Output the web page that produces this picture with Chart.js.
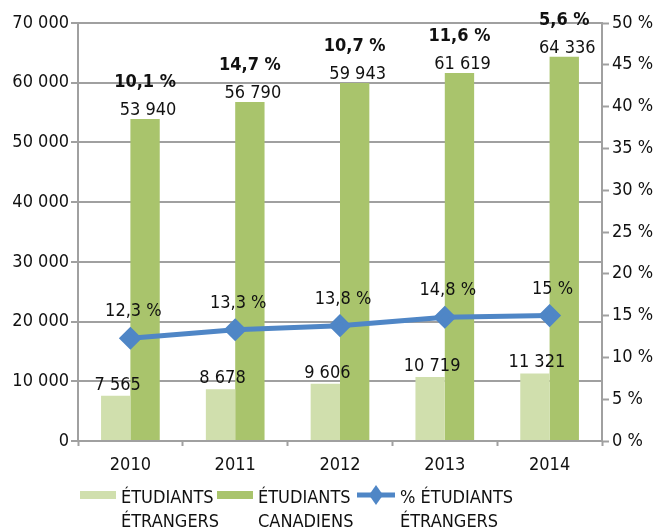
<!DOCTYPE html>
<html>
<head>
<meta charset="utf-8">
<script src="https://cdn.jsdelivr.net/npm/chart.js@4/dist/chart.umd.min.js"></script>
<style>
  html, body { margin: 0; padding: 0; background: #fff; }
  #wrap { width: 665px; height: 531px; }
</style>
</head>
<body>
<div id="wrap"><canvas id="chart" width="665" height="531"></canvas></div>
<script>
// data
var years = ['2010', '2011', '2012', '2013', '2014'];
var foreignStudents = [7565, 8678, 9606, 10719, 11321];
var canadianStudents = [53940, 56790, 59943, 61619, 64336];
var foreignShare = [12.3, 13.3, 13.8, 14.8, 15];
var canadianGrowth = [10.1, 14.7, 10.7, 11.6, 5.6];
var legendLabels = [['ÉTUDIANTS', 'ÉTRANGERS'], ['ÉTUDIANTS', 'CANADIENS'], ['% ÉTUDIANTS', 'ÉTRANGERS']];

var FONT = "'DejaVu Sans Condensed', 'Liberation Sans Narrow', sans-serif";
var LIGHT = '#d0dfad';
var DARK = '#a9c46c';
var BLUE = '#4f86c6';
var GRID = '#a0a0a0';
var FS = 18;

function fmtNum(n) {
    return String(n).replace(/\B(?=(\d{3})+(?!\d))/g, ' ');
}
function fmtPct(p) {
    return String(p).replace('.', ',') + ' %';
}

// value labels above bars and points
var labelPlugin = {
    id: 'valueLabels',
    afterDatasetsDraw: function (chart) {
        var ctx = chart.ctx;
        ctx.save();
        ctx.fillStyle = '#111';
        ctx.textAlign = 'center';
        ctx.textBaseline = 'alphabetic';
        ctx.font = FS + 'px ' + FONT;
        chart.getDatasetMeta(0).data.forEach(function (bar, i) {
            ctx.fillText(fmtNum(foreignStudents[i]), bar.x + 2, bar.y - 6);
        });
        chart.getDatasetMeta(1).data.forEach(function (bar, i) {
            ctx.font = FS + 'px ' + FONT;
            ctx.fillText(fmtNum(canadianStudents[i]), bar.x + 3, bar.y - 4);
            ctx.font = 'bold ' + FS + 'px ' + FONT;
            ctx.fillText(fmtPct(canadianGrowth[i]), bar.x, bar.y - 32);
        });
        ctx.font = FS + 'px ' + FONT;
        chart.getDatasetMeta(2).data.forEach(function (pt, i) {
            ctx.fillText(fmtPct(foreignShare[i]), pt.x + 3, pt.y - 22);
        });
        ctx.restore();
    }
};

// two-line legend at the bottom
var legendPlugin = {
    id: 'bottomLegend',
    afterDraw: function (chart) {
        var ctx = chart.ctx;
        var items = [
            { x: 80, color: LIGHT, type: 'box' },
            { x: 217, color: DARK, type: 'box' },
            { x: 357, color: BLUE, type: 'line' }
        ];
        ctx.save();
        ctx.font = FS + 'px ' + FONT;
        ctx.textBaseline = 'middle';
        items.forEach(function (it, i) {
            if (it.type === 'box') {
                ctx.fillStyle = it.color;
                ctx.fillRect(it.x, 491, 36, 8);
            } else {
                ctx.strokeStyle = it.color;
                ctx.lineWidth = 5;
                ctx.beginPath();
                ctx.moveTo(it.x, 495);
                ctx.lineTo(it.x + 38, 495);
                ctx.stroke();
                ctx.fillStyle = it.color;
                ctx.beginPath();
                ctx.moveTo(it.x + 19, 485);
                ctx.lineTo(it.x + 26, 495);
                ctx.lineTo(it.x + 19, 505);
                ctx.lineTo(it.x + 12, 495);
                ctx.closePath();
                ctx.fill();
            }
            ctx.fillStyle = '#111';
            ctx.textAlign = 'left';
            var tx = it.type === 'box' ? it.x + 41 : it.x + 43;
            ctx.fillText(legendLabels[i][0], tx, 498);
            ctx.fillText(legendLabels[i][1], tx, 522);
        });
        ctx.restore();
    }
};

new Chart(document.getElementById('chart'), {
    type: 'bar',
    data: {
        labels: years,
        datasets: [{
            label: legendLabels[0].join(' '),
            data: foreignStudents,
            backgroundColor: LIGHT,
            yAxisID: 'y',
            order: 1,
            categoryPercentage: 0.56,
            barPercentage: 1
        }, {
            label: legendLabels[1].join(' '),
            data: canadianStudents,
            backgroundColor: DARK,
            yAxisID: 'y',
            order: 1,
            categoryPercentage: 0.56,
            barPercentage: 1
        }, {
            type: 'line',
            label: legendLabels[2].join(' '),
            data: foreignShare,
            yAxisID: 'y1',
            order: 0,
            borderColor: BLUE,
            backgroundColor: BLUE,
            borderWidth: 5,
            pointStyle: 'rectRot',
            pointRadius: 8,
            pointHoverRadius: 8,
            tension: 0
        }]
    },
    options: {
        responsive: false,
        animation: false,
        layout: { padding: { top: 23, left: 0, right: 0, bottom: 60 } },
        plugins: {
            legend: { display: false },
            tooltip: { enabled: false }
        },
        scales: {
            x: {
                offset: true,
                afterFit: function (s) { s.height = 30; },
                grid: {
                    offset: true,
                    drawOnChartArea: false,
                    drawTicks: true,
                    tickLength: 5,
                    tickWidth: 2,
                    tickColor: GRID
                },
                border: { color: GRID, width: 2 },
                ticks: { color: '#111', font: { family: FONT, size: FS }, padding: 9 }
            },
            y: {
                position: 'left',
                min: 0,
                max: 70000,
                afterFit: function (s) { s.width = 78; },
                grid: {
                    color: GRID,
                    lineWidth: 2,
                    drawTicks: true,
                    tickLength: 7,
                    tickColor: GRID
                },
                border: { color: GRID, width: 2 },
                ticks: {
                    stepSize: 10000,
                    color: '#111',
                    padding: 2,
                    font: { family: FONT, size: FS },
                    callback: function (v) { return fmtNum(v); }
                }
            },
            y1: {
                position: 'right',
                min: 0,
                max: 50,
                afterFit: function (s) { s.width = 63; },
                grid: {
                    drawOnChartArea: false,
                    drawTicks: true,
                    tickLength: 7,
                    tickWidth: 2,
                    tickColor: GRID
                },
                border: { color: GRID, width: 2 },
                ticks: {
                    stepSize: 5,
                    color: '#111',
                    padding: 3,
                    font: { family: FONT, size: FS },
                    callback: function (v) { return v + ' %'; }
                }
            }
        }
    },
    plugins: [labelPlugin, legendPlugin]
});
</script>
</body>
</html>
